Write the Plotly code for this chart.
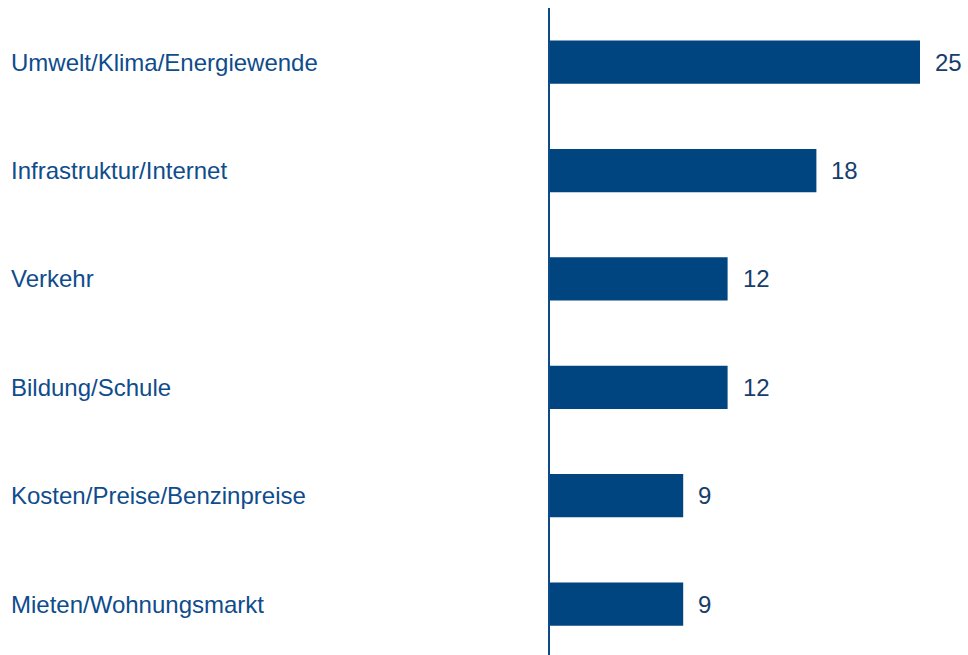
import plotly.graph_objects as go

categories = [
    "Umwelt/Klima/Energiewende",
    "Infrastruktur/Internet",
    "Verkehr",
    "Bildung/Schule",
    "Kosten/Preise/Benzinpreise",
    "Mieten/Wohnungsmarkt",
]
values = [25, 18, 12, 12, 9, 9]

BAR = "#004480"
LABEL = "#0f4c8c"
VALUE = "#173d6c"
FONT = "Liberation Sans, Arial, sans-serif"

W, H = 968, 655
left, top = 550, 8
plot_w = W - left

fig = go.Figure(
    go.Bar(
        x=values,
        y=categories,
        orientation="h",
        marker=dict(color=BAR, line=dict(width=0)),
        width=0.4,
        hoverinfo="skip",
    )
)

annotations = []
for c, v in zip(categories, values):
    annotations.append(dict(
        x=-(left - 9) / plot_w, xref="paper", y=c, yref="y",
        text=c, showarrow=False, xanchor="left", yanchor="middle",
        font=dict(family=FONT, size=24, color=LABEL),
    ))
    annotations.append(dict(
        x=v, xref="x", y=c, yref="y",
        text=str(v), showarrow=False, xanchor="left", yanchor="middle",
        xshift=13, font=dict(family=FONT, size=24, color=VALUE),
    ))

fig.update_layout(
    width=W, height=H,
    margin=dict(l=left, r=0, t=top, b=0),
    paper_bgcolor="white", plot_bgcolor="white",
    showlegend=False,
    annotations=annotations,
    xaxis=dict(range=[0, plot_w / 14.8], visible=False, fixedrange=True),
    yaxis=dict(
        type="category", range=[5.47, -0.5],
        showticklabels=False, showgrid=False, zeroline=False,
        showline=True, linecolor="#0d4a88", linewidth=2, ticks="",
        fixedrange=True,
    ),
)

fig.write_html(
    "out.html",
    config={"displayModeBar": False, "staticPlot": True},
    post_script="document.body.style.margin='0';document.body.style.overflow='hidden';",
)
